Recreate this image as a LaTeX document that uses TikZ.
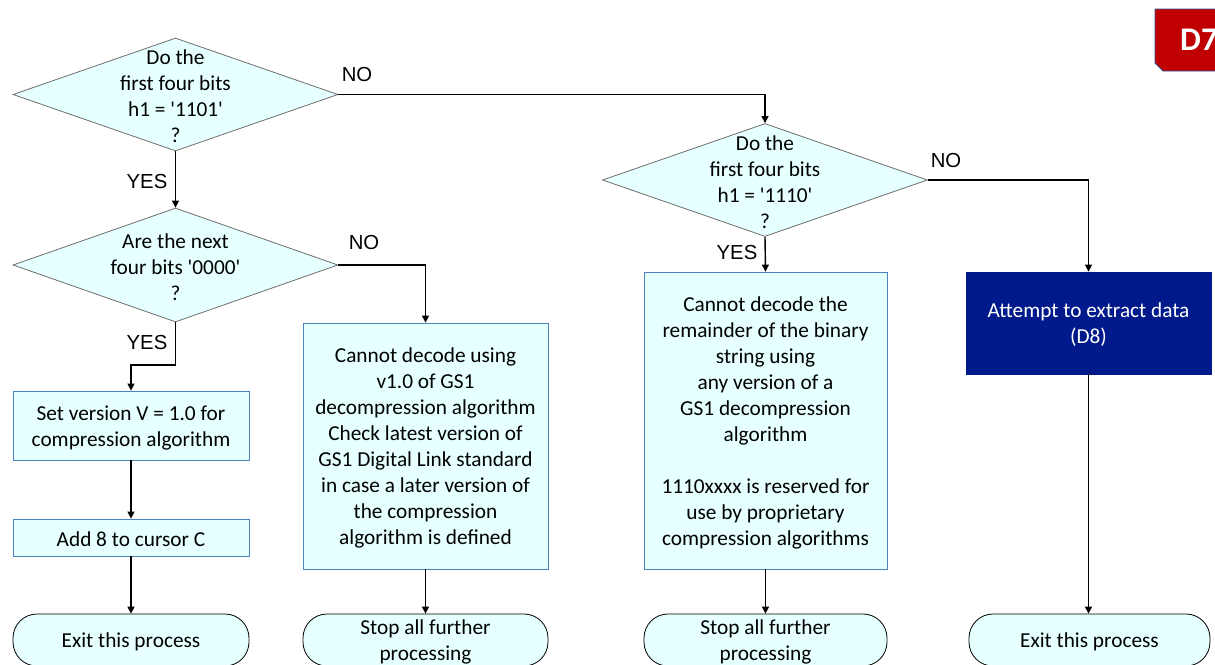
\documentclass[tikz,border=0pt]{standalone}
\usepackage{fontspec}
\newfontfamily\cf{Carlito}
\newfontfamily\yesno{Liberation Sans}
\usetikzlibrary{shapes.geometric,arrows.meta}
\definecolor{lightc}{RGB}{230,255,255}
\definecolor{boxedge}{RGB}{79,129,189}
\definecolor{diaedge}{RGB}{110,110,110}
\definecolor{navy}{RGB}{0,26,140}
\definecolor{badge}{RGB}{192,0,0}
\definecolor{badgeedge}{RGB}{47,85,151}
\begin{document}
\begin{tikzpicture}[x=1pt,y=-1pt,
  txt/.style={font=\cf\fontsize{21.3}{26}\selectfont, align=center, yshift=-2pt},
  tx/.style={label={[txt]center:#1}},
  wtx/.style={label={[txt,text=white]center:#1}},
  dia/.style={shape=diamond, draw=diaedge, line width=0.8pt, fill=lightc, minimum width=325pt, minimum height=113pt, inner sep=0pt},
  procbox/.style={draw=boxedge, line width=0.8pt, fill=lightc, inner sep=0pt},
  term/.style={draw=black, line width=0.8pt, fill=lightc, rounded corners=24pt, minimum height=52pt, inner sep=0pt},
  lab/.style={font=\yesno\fontsize{20.3}{22}\selectfont, inner sep=0pt},
  arr/.style={line width=1.4pt, -{Triangle[length=7pt,width=7pt]}}
]
\useasboundingbox (0,0) rectangle (1215,664);
\clip (0,0) rectangle (1215,664);

% badge
\fill[badge, draw=badgeedge, line width=0.8pt] (1155,9) -- (1225,9) -- (1225,71) -- (1163,71) -- (1155,63) -- cycle;
\node[font=\cf\bfseries\fontsize{33}{33}\selectfont, text=white, anchor=west, inner sep=0pt] (badgetxt) at (1180,40) {D7};

% decisions
\node[dia, tx={Do the\\first four bits\\h1 = '1101'\\?}] (d1) at (175.5,94.5) {};
\node[dia, tx={Do the\\first four bits\\h1 = '1110'\\?}] (d2) at (765,180) {};
\node[dia, minimum height=114pt, tx={Are the next\\four bits '0000'\\?}] (d3) at (175.5,265) {};

% boxes
\node[procbox, minimum width=236pt, minimum height=69pt, tx={Set version V = 1.0 for\\compression algorithm}] (b1) at (131,425.5) {};
\node[procbox, minimum width=236pt, minimum height=37pt, tx={Add 8 to cursor C}] (b2) at (131,537.5) {};
\node[procbox, minimum width=245pt, minimum height=246pt, tx={Cannot decode using\\v1.0 of GS1\\decompression algorithm\\Check latest version of\\GS1 Digital Link standard\\in case a later version of\\the compression\\algorithm is defined}] (b3) at (425.5,446) {};
\node[procbox, minimum width=243pt, minimum height=297pt, tx={Cannot decode the\\remainder of the binary\\string using\\any version of a\\GS1 decompression\\algorithm\\[26pt]1110xxxx is reserved for\\use by proprietary\\compression algorithms}] (b4) at (765.5,420.5) {};
\node[procbox, draw=navy, fill=navy, minimum width=245pt, minimum height=102pt, wtx={Attempt to extract data\\(D8)}] (b5) at (1088.5,323) {};

% terminators
\node[term, minimum width=236pt, tx={Exit this process}] (t1) at (131,640) {};
\node[term, minimum width=245pt, tx={Stop all further\\processing}] (t2) at (425.5,640) {};
\node[term, minimum width=243pt, tx={Stop all further\\processing}] (t3) at (765.5,640) {};
\node[term, minimum width=241pt, tx={Exit this process}] (t4) at (1089.5,640) {};

% connectors
\draw[arr] (d1.east) -| (d2.north);
\draw[arr] (d1.south) -- (d3.north);
\draw[arr] (d3.east) -| (b3.north);
\coordinate (k1) at (131,365);
\draw[arr] (d3.south) |- (k1) -- (b1.north);
\draw[arr] (b1.south) -- (b2.north);
\draw[arr] (b2.south) -- (t1.north);
\draw[arr] (b3.south) -- (t2.north);
\draw[arr] (d2.south) -- (b4.north);
\draw[arr] (d2.east) -| (b5.north);
\draw[arr] (b4.south) -- (t3.north);
\coordinate (k2) at (b5.south |- t4.north);
\draw[arr] (b5.south) -- (k2);

% labels
\node[lab] (n1) at (357,75) {NO};
\node[lab] (y1) at (147,182) {YES};
\node[lab] (n2) at (364,243) {NO};
\node[lab] (y2) at (147,343) {YES};
\node[lab] (y3) at (737,253) {YES};
\node[lab] (n3) at (946,161) {NO};
\end{tikzpicture}
\end{document}
